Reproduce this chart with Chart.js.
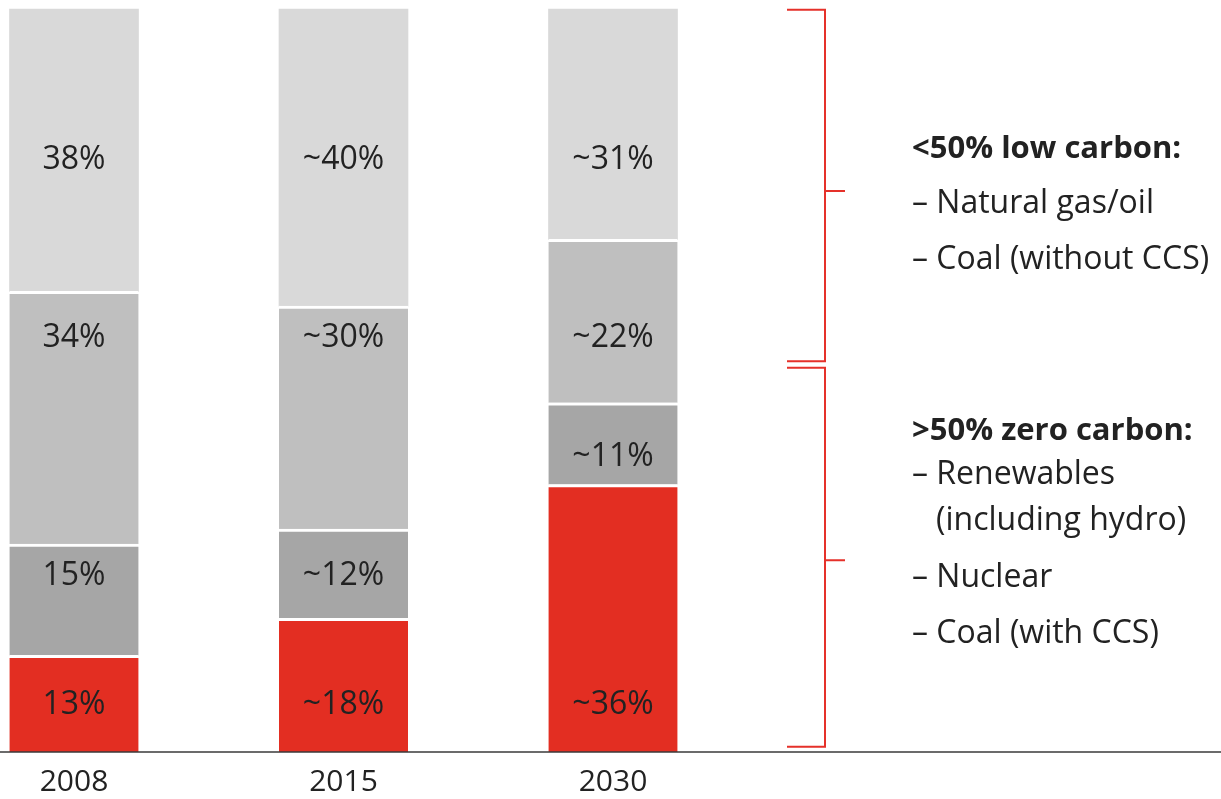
<!DOCTYPE html>
<html>
<head>
<meta charset="utf-8">
<script src="https://cdn.jsdelivr.net/npm/chart.js@4.4.1/dist/chart.umd.min.js"></script>
<style>
  html, body { margin: 0; padding: 0; background: #fff; }
  #wrap { width: 1221px; height: 799px; position: relative; }
</style>
</head>
<body>
<div id="wrap"><canvas id="chart"></canvas></div>
<script>
// data (shares of the power mix, %)
const years = ["2008", "2015", "2030"];
const approx = [false, true, true];          // "~" in front of the value
const redShare = [13, 18, 36];
const darkShare = [15, 12, 11];
const midShare = [34, 30, 22];
const lightShare = [38, 40, 31];

const lowCarbonNotes = ["<50% low carbon:", "– Natural gas/oil", "– Coal (without CCS)"];
const zeroCarbonNotes = [">50% zero carbon:", "– Renewables", "(including hydro)", "– Nuclear", "– Coal (with CCS)"];

const FONT = "'Open Sans', 'Noto Sans', sans-serif";
const INK = "#222";
const BRACKET = "#e5312a";

// * build datasets (bottom to top) *
const series = [
    { values: redShare, color: "#e32e22" },
    { values: darkShare, color: "#a6a6a6" },
    { values: midShare, color: "#bfbfbf" },
    { values: lightShare, color: "#d9d9d9" }
];

const datasets = series.map((s, d) => ({
    data: s.values,
    backgroundColor: s.color,
    borderColor: "#ffffff",
    borderWidth: d < series.length - 1 ? { top: 3, left: 0, right: 0, bottom: 0 } : 0,
    borderSkipped: false,
    barThickness: 129,
    clip: false
}));

// * labels inside the bars, the axis line, the brackets and the notes on the right *
const notesPlugin = {
    id: "notes",
    afterDatasetsDraw(chart, args, opts) {
        const ctx = chart.ctx;
        const yScale = chart.scales.y;
        const base = chart.chartArea.bottom;
        ctx.save();

        // base line over the whole width
        ctx.strokeStyle = "#3a3a3a";
        ctx.lineWidth = 1.5;
        ctx.beginPath();
        ctx.moveTo(0, base);
        ctx.lineTo(chart.width, base);
        ctx.stroke();

        // values inside the bars
        ctx.font = "32px " + FONT;
        ctx.fillStyle = INK;
        ctx.textAlign = "center";
        ctx.textBaseline = "alphabetic";
        chart.data.datasets.forEach((ds, d) => {
            const meta = chart.getDatasetMeta(d);
            meta.data.forEach((bar, i) => {
                const y = yScale.getPixelForValue(opts.labelLevels[d][i]) + 11;
                ctx.fillText((approx[i] ? "~" : "") + ds.data[i] + "%", bar.x, y);
            });
        });

        // brackets
        ctx.strokeStyle = BRACKET;
        ctx.lineWidth = 2;
        opts.brackets.forEach(b => {
            const y1 = yScale.getPixelForValue(b.from);
            const y2 = yScale.getPixelForValue(b.to);
            const ym = yScale.getPixelForValue(b.tick);
            ctx.beginPath();
            ctx.moveTo(787, y1);
            ctx.lineTo(825, y1);
            ctx.lineTo(825, y2);
            ctx.lineTo(787, y2);
            ctx.moveTo(825, ym);
            ctx.lineTo(845, ym);
            ctx.stroke();
        });

        // notes
        ctx.textAlign = "left";
        const drawNotes = (lines, baselines) => {
            lines.forEach((line, k) => {
                ctx.font = (k === 0 ? "bold 31px " : "32px ") + FONT;
                const indent = k > 0 && !line.startsWith("–") ? 24 : 0;
                ctx.fillText(line, 912 + indent, baselines[k]);
            });
        };
        drawNotes(lowCarbonNotes, [158, 213, 269]);
        drawNotes(zeroCarbonNotes, [440, 484, 530, 587, 643]);

        ctx.restore();
    }
};

new Chart(document.getElementById("chart"), {
    type: "bar",
    data: { labels: years, datasets },
    plugins: [notesPlugin],
    options: {
        responsive: true,
        maintainAspectRatio: false,
        animation: false,
        // first bar centred at x=74, last one at x=613
        layout: { padding: { top: 9, left: 74, right: 608, bottom: 0 } },
        plugins: {
            legend: { display: false },
            tooltip: { enabled: false },
            notes: {
                // where each value label sits, in axis units [dataset][year]
                labelLevels: [[6.6, 6.6, 6.6], [24, 24, 40], [56, 56, 56], [80, 80, 80]],
                brackets: [
                    { from: 99.9, to: 52.6, tick: 75.5 },
                    { from: 51.7, to: 0.7, tick: 25.8 }
                ]
            }
        },
        scales: {
            x: {
                stacked: true,
                offset: false,
                grid: { display: false, drawTicks: false },
                border: { display: false },
                afterFit: scale => { scale.height = 47; },
                ticks: {
                    autoSkip: false,
                    maxRotation: 0,
                    padding: 12,
                    color: INK,
                    font: { family: FONT, size: 30 }
                }
            },
            y: {
                display: false,
                stacked: true,
                min: 0,
                max: 100
            }
        }
    }
});
</script>
</body>
</html>
